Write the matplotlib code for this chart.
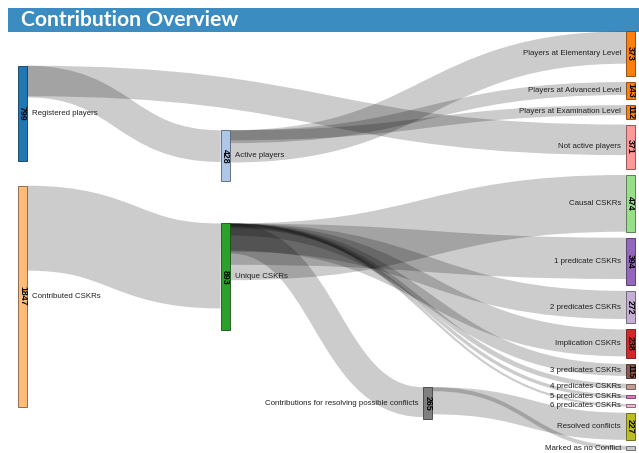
"""Sankey: Contribution Overview"""

import matplotlib
matplotlib.use("Agg")
from matplotlib import pyplot as plt
from matplotlib.path import Path
from matplotlib.patches import PathPatch, Rectangle

# --- dane ---
node_names = [
    "Registered players", "Contributed CSKRs",
    "Active players", "Unique CSKRs",
    "Contributions for resolving possible conflicts",
    "Players at Elementary Level", "Players at Advanced Level",
    "Players at Examination Level", "Not active players",
    "Causal CSKRs", "1 predicate CSKRs", "2 predicates CSKRs",
    "Implication CSKRs", "3 predicates CSKRs", "4 predicates CSKRs",
    "5 predicates CSKRs", "6 predicates CSKRs",
    "Resolved conflicts", "Marked as no Conflict",
]
node_values = [799, 1847, 428, 893, 265,
               373, 143, 112, 371,
               474, 394, 272, 238, 115, 42, 30, 20,
               227, 38]
node_colors = ["#1f77b4", "#ffbb78", "#aec7e8", "#2ca02c", "#7f7f7f",
               "#ff7f0e", "#ff7f0e", "#ff7f0e", "#ff9896",
               "#98df8a", "#9467bd", "#c5b0d5", "#d62728", "#8c564b",
               "#c49c94", "#e377c2", "#f7b6d2",
               "#bcbd22", "#c7c7c7"]

link_source = ["Registered players", "Registered players",
               "Active players", "Active players", "Active players",
               "Contributed CSKRs",
               "Unique CSKRs", "Unique CSKRs", "Unique CSKRs", "Unique CSKRs",
               "Unique CSKRs", "Unique CSKRs", "Unique CSKRs", "Unique CSKRs",
               "Unique CSKRs",
               "Contributions for resolving possible conflicts",
               "Contributions for resolving possible conflicts"]
link_target = ["Not active players", "Active players",
               "Players at Elementary Level", "Players at Advanced Level",
               "Players at Examination Level",
               "Unique CSKRs",
               "Causal CSKRs", "1 predicate CSKRs", "2 predicates CSKRs",
               "Implication CSKRs", "3 predicates CSKRs", "4 predicates CSKRs",
               "5 predicates CSKRs", "6 predicates CSKRs",
               "Contributions for resolving possible conflicts",
               "Resolved conflicts", "Marked as no Conflict"]
link_values = [255, 265, 270, 108, 84, 710,
               474, 345, 235, 225, 100, 40, 28, 18, 250,
               227, 33]

# --- uklad (jak node.y w sankey: srodek wezla jako ulamek wysokosci) ---
uklad_y = {"Registered players": 0.196, "Contributed CSKRs": 0.632,
           "Active players": 0.297, "Unique CSKRs": 0.586,
           "Contributions for resolving possible conflicts": 0.887}
X0, X1, Y0, Y1 = 18, 635, 31.4, 450.4
SZER = 9        # szerokosc wezla
ODSTEP = 6      # odstep miedzy wezlami
PX = 72 / 100   # piksel -> punkt

idx = {n: i for i, n in enumerate(node_names)}
n = len(node_names)

# kolumny: glebokosc od zrodel, ujscia na prawo
kolumna = [0] * n
for _ in range(n):
    for s, t in zip(link_source, link_target):
        kolumna[idx[t]] = max(kolumna[idx[t]], kolumna[idx[s]] + 1)
max_kol = max(kolumna)
ma_wyjscie = {idx[s] for s in link_source}
for i in range(n):
    if i not in ma_wyjscie:
        kolumna[i] = max_kol

H = Y1 - Y0
kolumny = [[i for i in range(n) if kolumna[i] == k] for k in range(max_kol + 1)]
ky = min((H - (len(c) - 1) * ODSTEP) / sum(node_values[i] for i in c)
         for c in kolumny)
kx = (X1 - X0 - SZER) / max_kol

wx = [X0 + kolumna[i] * kx for i in range(n)]
wy = [0.0] * n
dy = [v * ky for v in node_values]
for c in kolumny:
    y = Y0
    for i in c:
        nazwa = node_names[i]
        if nazwa in uklad_y:
            wy[i] = Y0 + uklad_y[nazwa] * H - dy[i] / 2
        else:
            wy[i] = y
            y += dy[i] + ODSTEP

# --- rysunek ---
fig = plt.figure(figsize=(6.39, 4.53), dpi=100, facecolor="white")
ax = fig.add_axes([0, 0, 1, 1])
ax.set_xlim(0, 639)
ax.set_ylim(453, 0)
ax.axis("off")

# pasek tytulu
ax.add_patch(Rectangle((8, 7.5), 640, 24, facecolor="#3a8cc1",
                       edgecolor="none", zorder=1))
ax.text(21, 20, "Contribution Overview", color="white", fontsize=15.2,
        fontweight="bold", family=["Lato", "DejaVu Sans"],
        ha="left", va="center", zorder=2)

# polaczenia
for s, t, v in zip(link_source, link_target, link_values):
    a, b = idx[s], idx[t]
    w = v * ky
    xa = wx[a] + SZER
    xb = wx[b]
    xm = (xa + xb) / 2
    ya = wy[a] + w / 2
    yb = wy[b] + w / 2
    sciezka = Path([(xa, ya), (xm, ya), (xm, yb), (xb, yb)],
                   [Path.MOVETO, Path.CURVE4, Path.CURVE4, Path.CURVE4])
    ax.add_patch(PathPatch(sciezka, fill=False, edgecolor=(0, 0, 0, 0.2),
                           lw=max(1, w) * PX, capstyle="butt", zorder=3))

# wezly
for i in range(n):
    kol = matplotlib.colors.to_rgb(node_colors[i])
    ciemny = tuple(c * 0.49 for c in kol)
    ax.add_patch(Rectangle((wx[i], wy[i]), SZER, dy[i], facecolor=kol,
                           edgecolor=ciemny, lw=0.6, zorder=4))
    srodek = wy[i] + dy[i] / 2
    if dy[i] > 10:
        ax.text(wx[i] + SZER / 2, srodek, str(node_values[i]), rotation=270,
                ha="center", va="center", fontsize=6.4, fontweight="bold",
                family="Liberation Sans", color="black", zorder=5)
    if wx[i] < 639 / 2:
        ax.text(wx[i] + SZER + 5, srodek, node_names[i], ha="left",
                va="center", fontsize=5.7, family="Liberation Sans",
                color="#222222", zorder=5)
    else:
        ax.text(wx[i] - 5, srodek, node_names[i], ha="right",
                va="center", fontsize=5.7, family="Liberation Sans",
                color="#222222", zorder=5)

fig.savefig("out.png", dpi=100, facecolor="white")
